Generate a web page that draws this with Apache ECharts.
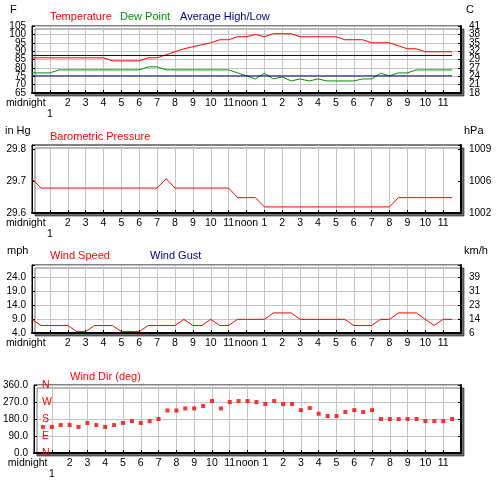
<!DOCTYPE html>
<html><head><meta charset="utf-8">
<script src="https://cdn.jsdelivr.net/npm/echarts@6/dist/echarts.min.js"></script>
<style>html,body{margin:0;padding:0;background:#fff}#c{width:500px;height:480px}</style>
</head><body><div id="c"></div>
<script>
// ---- data (hours after midnight) ----
const times = [0,0.5, 1,1.5, 2,2.5, 3,3.5, 4,4.5, 5,5.5, 6,6.5, 7,7.5, 8,8.5, 9,9.5, 10,10.5, 11,11.5,
  12,12.5, 13,13.5, 14,14.5, 15,15.5, 16,16.5, 17,17.5, 18,18.5, 19,19.5, 20,20.5, 21,21.5, 22,22.5, 23,23.5];
const temperatureF = [86,86, 86,86, 86,86, 86,86, 86,84.2, 84.2,84.2, 84.2,86, 86,87.8, 89.6,91.4, 92.6,93.8,
  95,96.8, 96.8,98.6, 98.6,100, 98.6,100.4, 100.4,100.4, 98.6,98.6, 98.6,98.6, 98.6,96.8, 96.8,96.8, 95,95,
  95,93.2, 91.4,91.4, 89.6,89.6, 89.6,89.6];
const dewPointF = [77,77, 77,78.8, 78.8,78.8, 78.8,78.8, 78.8,78.8, 78.8,78.8, 78.8,80.6, 80.6,78.8, 78.8,78.8,
  78.8,78.8, 78.8,78.8, 78.8,77, 75.2,73.4, 76.8,73.4, 74.6,72.2, 73.4,72.2, 73.4,72.2, 72.2,72.2, 72.2,73.4,
  73.4,76.8, 75.2,77, 77,78.8, 78.8,78.8, 78.8,78.8];
const avgTimes = [0, 23.5];
const averageHighF = [87.4, 87.4];
const averageLowF = [75.2, 75.2];
const pressureInHg = [29.707,29.678, 29.678,29.678, 29.678,29.678, 29.678,29.678, 29.678,29.678, 29.678,29.678,
  29.678,29.678, 29.678,29.707, 29.678,29.678, 29.678,29.678, 29.678,29.678, 29.678,29.648, 29.648,29.648,
  29.619,29.619, 29.619,29.619, 29.619,29.619, 29.619,29.619, 29.619,29.619, 29.619,29.619, 29.619,29.619,
  29.619,29.648, 29.648,29.648, 29.648,29.648, 29.648,29.648];
const windSpeedMph = [8.9,6.7, 6.7,6.7, 6.7,4.5, 4.5,6.7, 6.7,6.7, 4.5,4.5, 4.5,6.7, 6.7,6.7, 6.7,8.9, 6.7,6.7,
  8.9,6.7, 6.7,8.9, 8.9,8.9, 8.9,11.2, 11.2,11.2, 8.9,8.9, 8.9,8.9, 8.9,8.9, 6.7,6.7, 6.7,8.9, 8.9,11.2,
  11.2,11.2, 8.9,6.7, 8.9,8.9];
const windGustMph = [];
const dirTimes = [0.5, 1,1.5, 2,2.5, 3,3.5, 4,4.5, 5,5.5, 6,6.5, 7,7.5, 8,8.5, 9,9.5, 10,10.5, 11,11.5,
  12,12.5, 13,13.5, 14,14.5, 15,15.5, 16,16.5, 17,17.5, 18,18.5, 19,19.5, 20,20.5, 21,21.5, 22,22.5, 23,23.5];
const windDirDeg = [138, 138,148, 148,138, 159,148, 138,148, 159,169, 159,169, 180,225, 225,236, 236,249,
  275,236, 270,275, 275,270, 259,275, 259,259, 227,238, 208,196, 196,217, 227,217, 227,180, 180,180,
  180,180, 169,169, 169,180];

// ---- tick labels ----
const hourTickText = ['', '1','2','3','4','5','6','7','8','9','10','11','noon','1','2','3','4','5','6','7','8','9','10','11', ''];
const fTickValues = [65,70,75,80,85,90,95,100,105];
const fTickText = ['65','70','75','80','85','90','95','100','105'];
const cTickText = ['18','21','24','27','29','32','35','38','41'];
const inHgTickValues = [29.6, 29.7, 29.8];
const inHgTickText = ['29.6','29.7','29.8'];
const hPaTickText = ['1002','1006','1009'];
const mphTickValues = [4, 9, 14, 19, 24];
const mphTickText = ['4.0','9.0','14.0','19.0','24.0'];
const kmhTickText = ['6','14','23','31','39'];
const degTickValues = [0, 90, 180, 270, 360];
const degTickText = ['0.0','90.0','180.0','270.0','360.0'];
const compassText = ['N','E','S','W','N'];

// ---- styling ----
const FONT = "'Liberation Sans', Arial, sans-serif";
const RED = '#ff0000', GREEN = '#009000', NAVY = '#000080', GRIDC = '#c4c4c4';

// parity: undefined = all labels, 0 = even-index labels only, 1 = odd-index labels only
function lookup(vals, texts, parity) {
  return function (v) {
    const i = vals.findIndex(t => Math.abs(t - v) < 1e-6);
    if (i < 0) return '';
    if (parity !== undefined && i % 2 !== parity) return '';
    return texts[i];
  };
}

const grids = [
  {top: 26, height: 67},
  {top: 145, height: 68},
  {top: 265, height: 68},
  {top: 385, height: 68}
].map(g => Object.assign({
  left: 32, right: 39, show: true, backgroundColor: '#fff',
  borderColor: '#000', borderWidth: 1,
  shadowColor: 'rgba(0,0,0,0.55)', shadowOffsetX: 3, shadowOffsetY: 3, shadowBlur: 0
}, g));

function xAxis(gi, withOne) {
  return {
    type: 'value', gridIndex: gi, min: 0, max: 24, interval: 1,
    axisLine: {show: true, lineStyle: {color: '#000', width: 2}},
    axisTick: {show: true, inside: true, length: 3, lineStyle: {color: '#000'}},
    splitLine: {show: true, lineStyle: {color: GRIDC, width: 1}},
    axisLabel: {
      margin: 5, color: '#000', fontSize: 10.5, fontFamily: FONT, lineHeight: 11,
      showMinLabel: true, showMaxLabel: true, interval: 0, hideOverlap: false,
      formatter: function (v) {
        const i = Math.round(v);
        if (i === 1) return withOne ? '{m|midnight}\n{o|1}' : '{m|midnight}';
        return hourTickText[i] || '';
      },
      rich: {
        m: {width: 88, align: 'left', fontSize: 10.5, fontFamily: FONT, color: '#000', lineHeight: 11},
        o: {align: 'center', fontSize: 10.5, fontFamily: FONT, color: '#000', lineHeight: 11}
      }
    }
  };
}

function yAxis(gi, pos, min, max, interval, fmt, split, extra) {
  return Object.assign({
    type: 'value', gridIndex: gi, position: pos, min: min, max: max, interval: interval,
    axisLine: {show: true, onZero: false, lineStyle: {color: '#000', width: pos === 'right' ? 2 : 1}},
    axisTick: {show: true, inside: true, length: 3, lineStyle: {color: '#000'}},
    splitLine: {show: split, lineStyle: {color: GRIDC, width: 1}},
    axisLabel: {show: true, margin: pos === 'right' ? 8 : 6, color: '#000', fontSize: 10, fontFamily: FONT,
      interval: 0, showMinLabel: true, showMaxLabel: true, hideOverlap: false, formatter: fmt}
  }, extra || {});
}

// label-only companion axis (same scale), used to avoid automatic hiding of crowded labels
function labelOnlyAxis(gi, pos, min, max, interval, fmt) {
  return yAxis(gi, pos, min, max, interval, fmt, false, {
    axisLine: {show: false}, axisTick: {show: false}
  });
}

const pair = (xs, ys) => xs.map((x, i) => [x, ys[i]]);
function line(name, xi, yi, data, color) {
  return {name: name, type: 'line', xAxisIndex: xi, yAxisIndex: yi, data: data, symbol: 'none',
    showSymbol: false, lineStyle: {color: color, width: 1}, itemStyle: {color: color}, animation: false};
}

function label(x, y, text, color, size) {
  return {type: 'text', x: x, y: y, silent: true,
    style: {text: text, fill: color, font: (size || 11) + 'px ' + FONT, verticalAlign: 'middle', align: 'left'}};
}

const option = {
  backgroundColor: '#fff',
  animation: false,
  grid: grids,
  xAxis: [xAxis(0, true), xAxis(1, true), xAxis(2, false), xAxis(3, true)],
  yAxis: [
    yAxis(0, 'left', 65, 105, 5, lookup(fTickValues, fTickText, 0), true),          // 0
    labelOnlyAxis(0, 'left', 65, 105, 5, lookup(fTickValues, fTickText, 1)),         // 1
    yAxis(0, 'right', 65, 105, 5, lookup(fTickValues, cTickText, 0), false),        // 2
    labelOnlyAxis(0, 'right', 65, 105, 5, lookup(fTickValues, cTickText, 1)),        // 3
    yAxis(1, 'left', 29.6, 29.8125, 0.1, lookup(inHgTickValues, inHgTickText), false), // 4
    yAxis(1, 'right', 29.6, 29.8125, 0.1, lookup(inHgTickValues, hPaTickText), false), // 5
    yAxis(2, 'left', 4, 28.4, 5, lookup(mphTickValues, mphTickText), true),          // 6
    yAxis(2, 'right', 4, 28.4, 5, lookup(mphTickValues, kmhTickText), false),        // 7
    yAxis(3, 'left', 0, 360, 90, lookup(degTickValues, degTickText), true),          // 8
    yAxis(3, 'left', 0, 360, 90, lookup(degTickValues, compassText), false, {        // 9
      axisLine: {show: false}, axisTick: {show: false},
      axisLabel: {show: true, inside: true, margin: 8, color: RED, fontSize: 10.5, fontFamily: FONT,
        interval: 0, showMinLabel: true, showMaxLabel: true, hideOverlap: false,
        formatter: lookup(degTickValues, compassText)}
    }),
    yAxis(3, 'right', 0, 360, 90, () => '', false)                                   // 10
  ],
  series: [
    line('Temperature', 0, 0, pair(times, temperatureF), RED),
    line('Dew Point', 0, 0, pair(times, dewPointF), GREEN),
    line('Average High', 0, 0, pair(avgTimes, averageHighF), NAVY),
    line('Average Low', 0, 0, pair(avgTimes, averageLowF), NAVY),
    line('Barometric Pressure', 1, 4, pair(times, pressureInHg), RED),
    line('Wind Speed', 2, 6, pair(times, windSpeedMph), RED),
    line('Wind Gust', 2, 6, windGustMph, NAVY),
    {name: 'Wind Dir', type: 'scatter', xAxisIndex: 3, yAxisIndex: 8, data: pair(dirTimes, windDirDeg),
      symbol: 'rect', symbolSize: 4, itemStyle: {color: RED}, animation: false}
  ],
  graphic: [
    label(10, 10, 'F', '#000'),
    label(50, 17, 'Temperature', RED),
    label(120, 17, 'Dew Point', GREEN),
    label(180, 17, 'Average High/Low', NAVY),
    label(466, 10, 'C', '#000'),
    label(5, 131, 'in Hg', '#000'),
    label(50, 137, 'Barometric Pressure', RED),
    label(464, 131, 'hPa', '#000'),
    label(7, 251, 'mph', '#000'),
    label(50, 256, 'Wind Speed', RED),
    label(150, 256, 'Wind Gust', NAVY),
    label(464, 251, 'km/h', '#000'),
    label(70, 377, 'Wind Dir (deg)', RED)
  ]
};

const chart = echarts.init(document.getElementById('c'), null, {renderer: 'canvas'});
chart.setOption(option);
</script>
</body></html>
